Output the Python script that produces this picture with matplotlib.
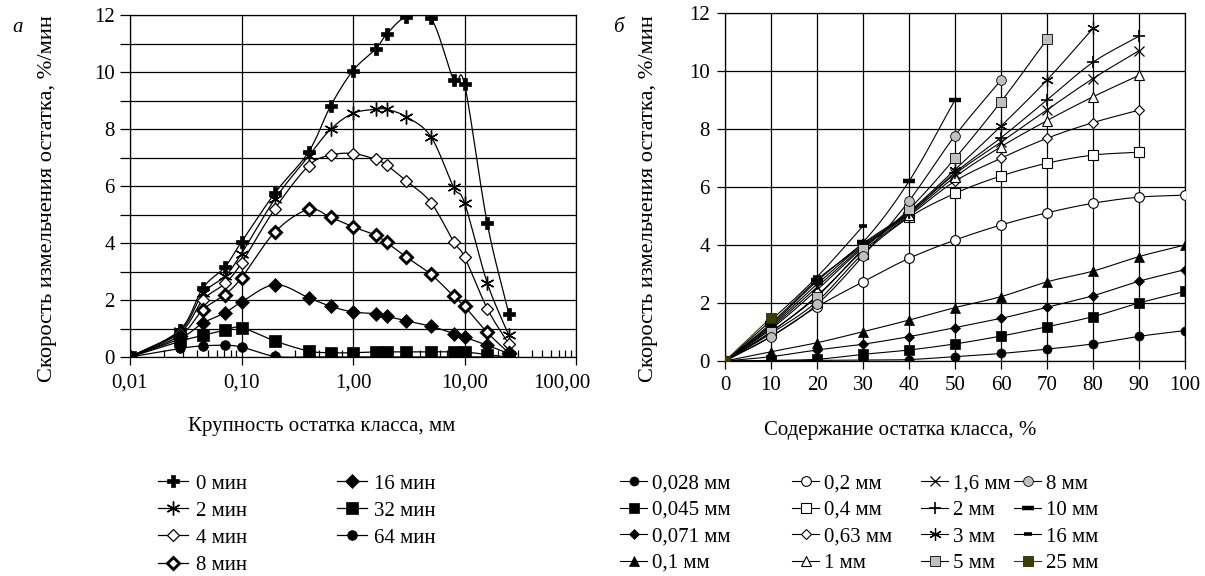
"""
Grinding rate of residue classes: (a) vs particle size, (б) vs class content
"""
import numpy as np
import matplotlib
matplotlib.use("Agg")
import matplotlib.pyplot as plt
from matplotlib.lines import Line2D
from matplotlib.transforms import ScaledTranslation
from matplotlib.ticker import FixedLocator, FuncFormatter, NullFormatter

plt.rcParams["font.family"] = ["Liberation Serif", "DejaVu Serif"]
plt.rcParams["font.size"] = 15

W, H = 1205, 576

# ---- panel a: rate vs size of residue class (mm), per grinding time ----
SIZES_A = [0.01, 0.028, 0.045, 0.071, 0.1, 0.2, 0.4, 0.63, 1, 1.6, 2, 3, 5, 8, 10, 16, 25]
rate_0min = [0, 0.95, 2.42, 3.16, 4.04, 5.76, 7.20, 8.81, 10.05, 10.81, 11.32, 11.94, 11.89, 9.72, 9.57, 4.69, 1.52]
rate_2min = [0, 0.90, 2.23, 2.83, 3.63, 5.55, 7.05, 7.99, 8.55, 8.69, 8.69, 8.43, 7.73, 5.95, 5.41, 2.60, 0.76]
rate_4min = [0, 0.85, 2.00, 2.58, 3.30, 5.21, 6.71, 7.08, 7.14, 6.93, 6.73, 6.18, 5.42, 4.04, 3.51, 1.70, 0.45]
rate_8min = [0, 0.75, 1.66, 2.19, 2.78, 4.39, 5.18, 4.90, 4.57, 4.27, 4.02, 3.51, 2.90, 2.13, 1.78, 0.86, 0.14]
rate_16min = [0, 0.65, 1.19, 1.55, 1.93, 2.54, 2.08, 1.78, 1.58, 1.52, 1.43, 1.27, 1.08, 0.82, 0.70, 0.41, 0.12]
rate_32min = [0, 0.55, 0.76, 0.94, 1.03, 0.56, 0.21, 0.15, 0.15, 0.18, 0.18, 0.18, 0.18, 0.18, 0.18, 0.08, 0.0]
rate_64min = [0, 0.30, 0.39, 0.41, 0.35, 0.02, 0.0, 0.0, 0.0, 0.0, 0.0, 0.0, 0.0, 0.0, 0.0, 0.0, 0.0]
TIME_LABELS = ["0 мин", "2 мин", "4 мин", "8 мин", "16 мин", "32 мин", "64 мин"]
A_XTICKS = [0.01, 0.1, 1, 10, 100]
A_XTICKLABELS = ["0,01", "0,10", "1,00", "10,00", "100,00"]

# ---- panel б: rate vs content of class (%), per class size ----
CONTENT = [0, 10, 20, 30, 40, 50, 60, 70, 80, 90, 100]
r_0028 = [0, 0.01, 0.02, 0.03, 0.05, 0.15, 0.26, 0.41, 0.59, 0.85, 1.05]
r_0045 = [0, 0.02, 0.06, 0.23, 0.38, 0.59, 0.86, 1.18, 1.53, 2.00, 2.40]
r_0071 = [0, 0.15, 0.38, 0.58, 0.84, 1.15, 1.47, 1.85, 2.25, 2.75, 3.15]
r_01 = [0, 0.32, 0.63, 1.01, 1.41, 1.84, 2.22, 2.73, 3.10, 3.60, 4.00]
r_02 = [0, 0.85, 1.87, 2.73, 3.54, 4.17, 4.69, 5.11, 5.44, 5.65, 5.72]
r_04 = [0, 0.95, 2.05, 3.70, 4.95, 5.78, 6.38, 6.82, 7.10, 7.20]
r_063 = [0, 1.00, 2.25, 3.80, 5.00, 6.20, 6.99, 7.68, 8.22, 8.65]
r_1 = [0, 1.10, 2.45, 3.90, 5.05, 6.35, 7.39, 8.29, 9.11, 9.85]
r_16 = [0, 1.15, 2.55, 3.95, 5.10, 6.45, 7.55, 8.66, 9.74, 10.70]
r_2 = [0, 1.20, 2.65, 4.00, 5.10, 6.50, 7.70, 9.00, 10.30, 11.20]
r_3 = [0, 1.25, 2.75, 4.05, 5.15, 6.60, 8.10, 9.69, 11.47]
r_5 = [0, 1.01, 2.22, 3.85, 5.23, 6.99, 8.94, 11.09]
r_8 = [0, 0.84, 1.95, 3.62, 5.52, 7.77, 9.69]
r_10 = [0, 1.30, 2.80, 4.10, 6.20, 9.00]
r_16mm = [0, 1.40, 2.90, 4.65]
r_25 = [0, 1.50]
CLASS_LABELS = ["0,028 мм", "0,045 мм", "0,071 мм", "0,1 мм", "0,2 мм", "0,4 мм",
                "0,63 мм", "1 мм", "1,6 мм", "2 мм", "3 мм", "5 мм", "8 мм",
                "10 мм", "16 мм", "25 мм"]

ASTER = (6, 2, 0)


def smooth(x, y, n=24):
    """Catmull-Rom curve through the points (like Excel's smoothed line)."""
    x = np.asarray(x, float)
    y = np.asarray(y, float)
    if len(x) < 3:
        return x, y
    px = np.concatenate([[2 * x[0] - x[1]], x, [2 * x[-1] - x[-2]]])
    py = np.concatenate([[2 * y[0] - y[1]], y, [2 * y[-1] - y[-2]]])
    t = np.linspace(0, 1, n)[:-1]
    ox, oy = [], []
    for i in range(1, len(px) - 2):
        for p, out in ((px, ox), (py, oy)):
            p0, p1, p2, p3 = p[i - 1], p[i], p[i + 1], p[i + 2]
            out.extend(0.5 * (2 * p1 + (-p0 + p2) * t
                              + (2 * p0 - 5 * p1 + 4 * p2 - p3) * t ** 2
                              + (-p0 + 3 * p1 - 3 * p2 + p3) * t ** 3))
    ox.append(x[-1])
    oy.append(y[-1])
    return np.array(ox), np.array(oy)


fig = plt.figure(figsize=(W / 100, H / 100), dpi=100)
fig.patch.set_facecolor("white")

# ================= panel a =================
axa = fig.add_axes([130 / W, 1 - 357 / H, (576 - 130) / W, (357 - 15) / H])
axa.set_xscale("log")
axa.set_xlim(0.01, 100)
axa.set_ylim(0, 12)

styles_a = [
    dict(marker="P", ms=9, mfc="black", mec="black", mew=0.5),
    dict(marker=ASTER, ms=10, mfc="black", mec="black", mew=1.0),
    dict(marker="D", ms=6.5, mfc="white", mec="black", mew=0.9),
    dict(marker="D", ms=6.5, mfc="white", mec="black", mew=2.1),
    dict(marker="D", ms=7, mfc="black", mec="black", mew=0.5),
    dict(marker="s", ms=8.5, mfc="black", mec="black", mew=0.5),
    dict(marker="o", ms=7, mfc="black", mec="black", mew=0.5),
]
series_a = [rate_0min, rate_2min, rate_4min, rate_8min, rate_16min, rate_32min, rate_64min]
handles_a = []
for i, (vals, st) in enumerate(zip(series_a, styles_a)):
    lx, ly = smooth(np.log10(SIZES_A), vals)
    axa.plot(10 ** lx, ly, color="black", lw=0.9, zorder=3)
    axa.plot(SIZES_A, vals, ls="none", zorder=5 if i == 5 else 4, **st)
    handles_a.append(Line2D([], [], color="black", lw=0.9, **st))

axa.xaxis.set_major_locator(FixedLocator(A_XTICKS))
axa.xaxis.set_major_formatter(FuncFormatter(lambda v, p: A_XTICKLABELS[A_XTICKS.index(v)] if v in A_XTICKS else ""))
axa.xaxis.set_minor_formatter(NullFormatter())
axa.set_yticks(range(0, 13, 2))
axa.set_yticks(range(0, 13), minor=True)
axa.grid(True, which="major", axis="x", color="black", lw=0.9)
axa.grid(True, which="both", axis="y", color="black", lw=0.9)
axa.tick_params(axis="y", which="both", direction="out", length=7, width=0.9, pad=4)
axa.tick_params(axis="x", which="major", direction="out", length=6, width=0.9, pad=6)
axa.tick_params(axis="x", which="minor", direction="in", length=5, width=0.9)
for s in axa.spines.values():
    s.set_linewidth(0.9)

# ================= panel б =================
axb = fig.add_axes([725 / W, 1 - 361 / H, (1185 - 725) / W, (361 - 13) / H])
axb.set_xlim(0, 100)
axb.set_ylim(0, 12)

styles_b = [
    dict(marker="o", ms=6.5, mfc="black", mec="black", mew=0.5),
    dict(marker="s", ms=6.5, mfc="black", mec="black", mew=0.5),
    dict(marker="D", ms=5, mfc="black", mec="black", mew=0.5),
    dict(marker="^", ms=7.5, mfc="black", mec="black", mew=0.5),
    dict(marker="o", ms=7, mfc="white", mec="black", mew=0.8),
    dict(marker="s", ms=7, mfc="white", mec="black", mew=0.8),
    dict(marker="D", ms=5.5, mfc="white", mec="black", mew=0.8),
    dict(marker="^", ms=7, mfc="white", mec="black", mew=0.8),
    dict(marker="x", ms=7, mfc="black", mec="black", mew=0.9),
    dict(marker="+", ms=9, mfc="black", mec="black", mew=1.2),
    dict(marker=ASTER, ms=9, mfc="black", mec="black", mew=0.9),
    dict(marker="s", ms=7, mfc="#c0c0c0", mec="black", mew=0.6),
    dict(marker="o", ms=7, mfc="#c0c0c0", mec="black", mew=0.6),
    dict(marker="_", ms=9, mfc="black", mec="black", mew=3.2),
    dict(marker="_", ms=6, mfc="black", mec="black", mew=2.6),
    dict(marker="s", ms=7, mfc="#3d3d00", mec="#2a2a00", mew=0.6),
]
series_b = [r_0028, r_0045, r_0071, r_01, r_02, r_04, r_063, r_1, r_16, r_2,
            r_3, r_5, r_8, r_10, r_16mm, r_25]
handles_b = []
for i, (vals, st) in enumerate(zip(series_b, styles_b)):
    xs = CONTENT[:len(vals)]
    lx, ly = smooth(xs, vals)
    lc = "#3d3d00" if i == 15 else "black"
    axb.plot(lx, ly, color=lc, lw=0.8, zorder=3)
    axb.plot(xs, vals, ls="none", zorder=4, **st)
    handles_b.append(Line2D([], [], color=lc, lw=0.8, **st))

axb.set_xticks(range(0, 101, 10))
axb.set_yticks(range(0, 13, 2))
axb.grid(True, color="black", lw=0.9)
axb.tick_params(direction="out", length=6, width=0.9, pad=5)
for s in axb.spines.values():
    s.set_linewidth(0.9)

for ax in (axa, axb):
    ax.set_axisbelow(True)
    ax.tick_params(labelsize=15)

# last log label sits a bit left of its tick, as in the source
fig.canvas.draw()
last = axa.get_xticklabels()[-1]
last.set_transform(last.get_transform() + ScaledTranslation(-14 / 100, 0, fig.dpi_scale_trans))

# ---- axis titles and panel letters ----
ylab = "Скорость измельчения остатка, %/мин"
fig.text(48 / W, 1 - 199 / H, ylab, rotation=90, ha="center", va="center", fontsize=16.2)
fig.text(648 / W, 1 - 199 / H, ylab, rotation=90, ha="center", va="center", fontsize=16.2)
fig.text(322 / W, 1 - 427 / H, "Крупность остатка класса, мм", ha="center", va="center", fontsize=15)
fig.text(900 / W, 1 - 430 / H, "Содержание остатка класса, %", ha="center", va="center", fontsize=15)
fig.text(18 / W, 1 - 28 / H, "а", style="italic", ha="center", va="center", fontsize=15)
fig.text(618 / W, 1 - 28 / H, "б", style="italic", ha="center", va="center", fontsize=15)


# ---- legends, one block per column ----
def legend_col(handles, labels, x, y, hl, pad, sp):
    fig.legend(handles, labels, loc="upper left", bbox_to_anchor=(x / W, 1 - y / H),
               frameon=False, borderaxespad=0, borderpad=0, labelspacing=sp,
               handlelength=hl, handletextpad=pad, fontsize=15)


legend_col(handles_a[:4], TIME_LABELS[:4], 158, 474, 1.45, 0.35, 0.36)
legend_col(handles_a[4:], TIME_LABELS[4:], 337, 474, 1.45, 0.35, 0.36)
for k, xc in enumerate([620, 792, 921, 1014]):
    legend_col(handles_b[4 * k:4 * k + 4], CLASS_LABELS[4 * k:4 * k + 4], xc, 474, 1.3, 0.22, 0.33)

fig.savefig("out.png", dpi=100, facecolor="white")
